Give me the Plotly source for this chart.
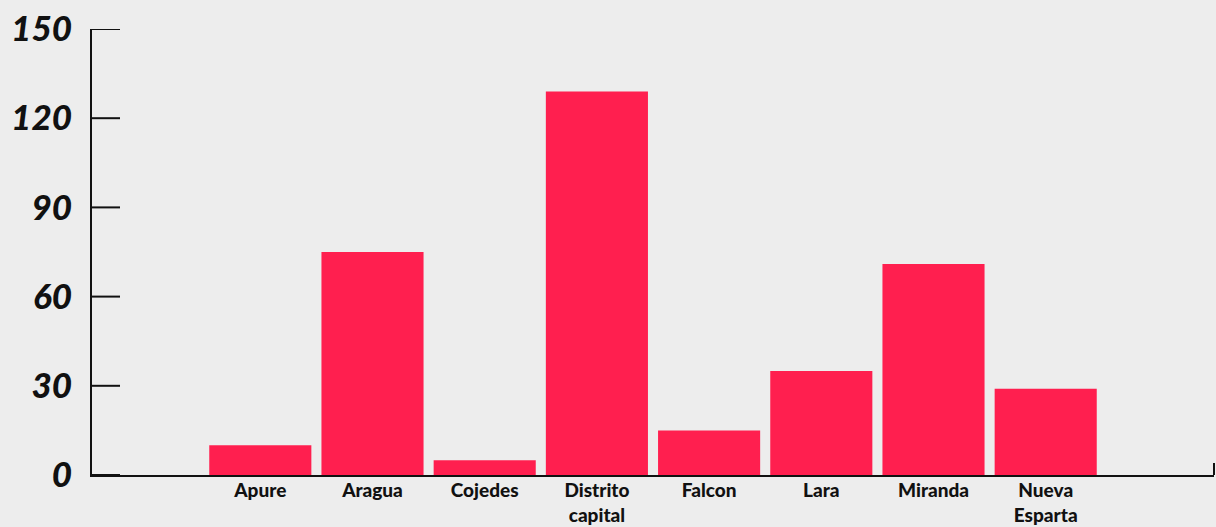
import plotly.graph_objects as go

categories = ["Apure", "Aragua", "Cojedes", "Distrito<br>capital", "Falcon",
              "Lara", "Miranda", "Nueva<br>Esparta"]
values = [10, 75, 5, 129, 15, 35, 71, 29]
y_ticks = [0, 30, 60, 90, 120, 150]

bar_color = "#FF1F4F"
bg = "#EDEDED"
ink = "#111111"

fig = go.Figure()
fig.add_trace(go.Bar(
    x=list(range(len(categories))),
    y=values,
    marker=dict(color=bar_color, line=dict(width=0)),
    width=0.91,
    hoverinfo="x+y",
))

shapes = [dict(type="line", xref="paper", yref="y",
               x0=0, x1=28 / 1122, y0=v, y1=v,
               line=dict(color=ink, width=2), layer="above")
          for v in y_ticks]
shapes.append(dict(type="line", xref="paper", yref="paper",
                   x0=1, x1=1, y0=0, y1=0.027,
                   line=dict(color=ink, width=2)))

fig.update_layout(
    width=1216, height=527,
    paper_bgcolor=bg, plot_bgcolor=bg,
    margin=dict(l=92, r=2, t=29, b=52),
    showlegend=False,
    xaxis=dict(
        range=[-1.5, 8.5],
        automargin=False,
        tickmode="array",
        tickvals=list(range(len(categories))),
        ticktext=categories,
        ticks="",
        showgrid=False, zeroline=False,
        showline=True, linecolor=ink, linewidth=2,
        tickfont=dict(family="Lato", size=19, color=ink, weight=900),
        ticklabelstandoff=-3,
    ),
    yaxis=dict(
        range=[0, 150],
        automargin=False,
        tickmode="array",
        tickvals=y_ticks,
        ticks="",
        showgrid=False, zeroline=False,
        showline=True, linecolor=ink, linewidth=2,
        tickfont=dict(family="Lato", size=35, color=ink, weight=900, style="italic"),
        ticklabelstandoff=11,
    ),
    shapes=shapes,
)

fig.write_html(
    "out.html",
    config={"displayModeBar": False},
    post_script="document.body.style.margin='0';document.body.style.background='%s';" % bg,
)
